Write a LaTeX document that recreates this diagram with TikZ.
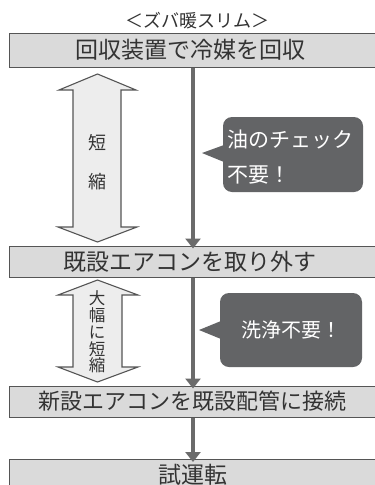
\documentclass[tikz,border=0pt]{standalone}
\usepackage{fontspec}
\setmainfont{Noto Sans CJK JP}
\usetikzlibrary{arrows.meta}
\definecolor{boxfill}{HTML}{DADADA}
\definecolor{boxline}{HTML}{555555}
\definecolor{txt}{HTML}{333333}
\definecolor{flowc}{HTML}{6B6B6B}
\definecolor{callc}{HTML}{636466}
\definecolor{arrfill}{HTML}{EDEDED}
\begin{document}
\begin{tikzpicture}[x=1pt,y=-1pt,
  stepbox/.style={draw=boxline,fill=boxfill,line width=1pt,minimum width=367pt,inner sep=0pt,text=txt,font=\fontsize{23}{23}\selectfont},
  flow/.style={draw=flowc,line width=4pt,-{Triangle[width=15pt,length=10pt]}},
  bigarrow/.style={draw=boxline,fill=arrfill,line width=1.1pt,line join=miter},
  small/.style={text=txt,font=\fontsize{18}{18}\selectfont,inner sep=0pt}]
\useasboundingbox (0,0) rectangle (375,485);
\fill[white] (0,0) rectangle (375,485);
\node[small] (title) at (197,21) {＜ズバ暖スリム＞};
\node[stepbox,minimum height=34pt] (b1) at (192.5,50) {\hspace*{-5pt}回収装置で冷媒を回収};
\node[stepbox,minimum height=31pt] (b2) at (192.5,261.5) {\hspace*{-5pt}既設エアコンを取り外す};
\node[stepbox,minimum height=31pt,font=\fontsize{22}{22}\selectfont] (b3) at (192.5,401.5) {新設エアコンを既設配管に接続};
\node[stepbox,minimum height=34pt,anchor=north] (b4) at (192.5,459) {};
\node[text=txt,font=\fontsize{23}{23}\selectfont,inner sep=0pt] (t4) at (193,475) {試運転};
\coordinate (fx) at (193,0);
% flow lines
\draw[flow] (b1.south -| fx) -- ([yshift=-3pt]b2.north -| fx);
\draw[flow] (b2.south -| fx) -- ([yshift=-3pt]b3.north -| fx);
\draw[flow] (b3.south -| fx) -- ([yshift=-3pt]b4.north -| fx);
% double arrows
\draw[bigarrow] (97.5,74) -- (136,90) -- (121,90) -- (121,227) -- (137,227) -- (97.5,242)
  -- (58,227) -- (73,227) -- (73,90) -- (59,90) -- cycle;
\node[small] (s1) at (97,143) {短};
\node[small] (s2) at (97,182) {縮};
\draw[bigarrow] (97.5,280) -- (138,295) -- (122,295) -- (122,367) -- (138,367) -- (97.5,382)
  -- (58,367) -- (73,367) -- (73,295) -- (58,295) -- cycle;
\node[small,align=center,font=\fontsize{16.5}{16.8}\selectfont] (s3) at (97,332) {大\\幅\\に\\短\\縮};
% callouts
\fill[callc] (224,145) -- (202,153) -- (224,162) -- cycle;
\fill[callc,rounded corners=9pt] (223,117) rectangle (363,192);
\node[text=white,font=\fontsize{21}{21}\selectfont,inner sep=0pt,anchor=west] (c1a) at (227,140) {油のチェック};
\node[text=white,font=\fontsize{21}{21}\selectfont,inner sep=0pt,anchor=west] (c1b) at (227,175) {不要！};
\fill[callc] (221,321) -- (199,330) -- (221,339) -- cycle;
\fill[callc,rounded corners=9pt] (220,293) rectangle (362,367);
\node[text=white,font=\fontsize{20}{20}\selectfont,inner sep=0pt] (c2) at (291,330) {洗浄不要！};
\end{tikzpicture}
\end{document}
